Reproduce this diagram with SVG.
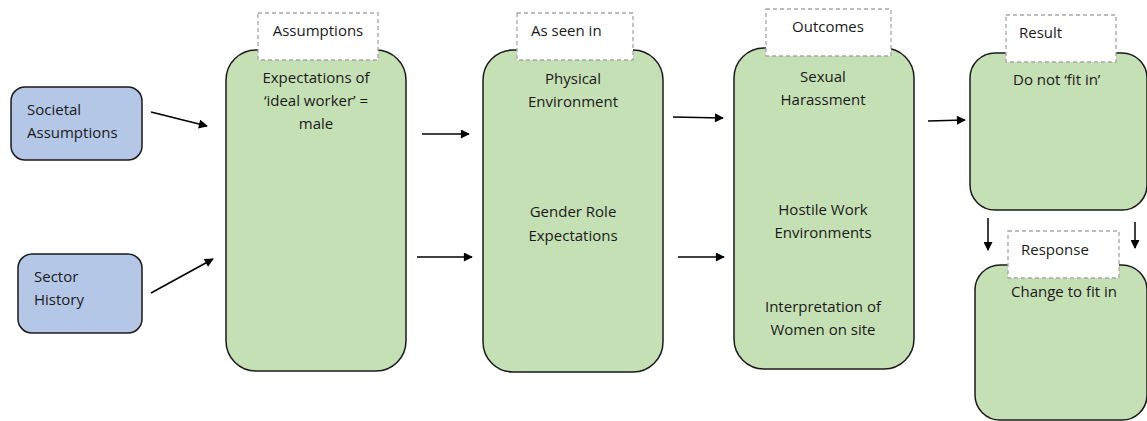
<svg xmlns="http://www.w3.org/2000/svg" width="1147" height="421" viewBox="0 0 1147 421">
  <style>
    .src { fill: #B4C7E7; stroke: #1a1a1a; stroke-width: 1.5; }
    .stage { fill: #C5E0B4; stroke: #1a1a1a; stroke-width: 1.5; }
    .tag { fill: #ffffff; stroke: #a6a6a6; stroke-width: 1.3; stroke-dasharray: 4 3; }
    text { font-family: "Open Sans", "Noto Sans", sans-serif; font-size: 15px; fill: #1a1a1a; }
    .c { text-anchor: middle; }
    .conn line { stroke: #000; stroke-width: 1.5; marker-end: url(#arrow); }
  </style>
  <defs>
    <marker id="arrow" viewBox="0 0 10 10" refX="9" refY="5" markerWidth="10" markerHeight="9" markerUnits="userSpaceOnUse" orient="auto">
      <path d="M0,0 L10,5 L0,10 z" fill="#000"/>
    </marker>
  </defs>

  <rect width="1147" height="421" fill="#ffffff"/>

  <g id="societal-assumptions">
    <rect class="src" x="11" y="87" width="131" height="73" rx="14"/>
    <text x="27" y="115">Societal</text>
    <text x="27" y="138">Assumptions</text>
  </g>

  <g id="sector-history">
    <rect class="src" x="18" y="254" width="124" height="79" rx="14"/>
    <text x="34" y="282">Sector</text>
    <text x="34" y="305">History</text>
  </g>

  <g id="assumptions">
    <rect class="stage" x="226" y="50" width="180" height="321" rx="30"/>
    <rect class="tag" x="258" y="13" width="120" height="47"/>
    <text class="c" x="318" y="36">Assumptions</text>
    <text class="c" x="316" y="83">Expectations of</text>
    <text class="c" x="316" y="106">‘ideal worker’ =</text>
    <text class="c" x="316" y="129">male</text>
  </g>

  <g id="as-seen-in">
    <rect class="stage" x="483" y="50" width="180" height="322" rx="30"/>
    <rect class="tag" x="517" y="13" width="116" height="47"/>
    <text x="531" y="36">As seen in</text>
    <text class="c" x="573" y="84">Physical</text>
    <text class="c" x="573" y="107">Environment</text>
    <text class="c" x="573" y="217">Gender Role</text>
    <text class="c" x="573" y="241">Expectations</text>
  </g>

  <g id="outcomes">
    <rect class="stage" x="734" y="48" width="180" height="321" rx="30"/>
    <rect class="tag" x="766" y="9" width="125" height="47"/>
    <text class="c" x="828" y="32">Outcomes</text>
    <text class="c" x="823" y="82">Sexual</text>
    <text class="c" x="823" y="105">Harassment</text>
    <text class="c" x="823" y="215">Hostile Work</text>
    <text class="c" x="823" y="238">Environments</text>
    <text class="c" x="823" y="312">Interpretation of</text>
    <text class="c" x="823" y="335">Women on site</text>
  </g>

  <g id="result">
    <rect class="stage" x="970" y="53" width="177" height="157" rx="25"/>
    <rect class="tag" x="1006" y="15" width="110" height="47"/>
    <text x="1019" y="38">Result</text>
    <text x="1013" y="85">Do not ‘fit in’</text>
  </g>

  <g id="response">
    <rect class="stage" x="975" y="265" width="172" height="155" rx="25"/>
    <rect class="tag" x="1008" y="231" width="111" height="47"/>
    <text x="1021" y="255">Response</text>
    <text x="1011" y="297">Change to fit in</text>
  </g>

  <g class="conn" id="connectors">
    <line x1="151" y1="112" x2="207" y2="126"/>
    <line x1="151" y1="293" x2="213" y2="259"/>
    <line x1="422" y1="134" x2="469" y2="134"/>
    <line x1="417" y1="257" x2="472" y2="257"/>
    <line x1="673" y1="117" x2="723" y2="118"/>
    <line x1="678" y1="257" x2="724" y2="257"/>
    <line x1="928" y1="121" x2="965" y2="120"/>
    <line x1="988" y1="218" x2="988" y2="250"/>
    <line x1="1135" y1="222" x2="1135" y2="248"/>
  </g>
</svg>
